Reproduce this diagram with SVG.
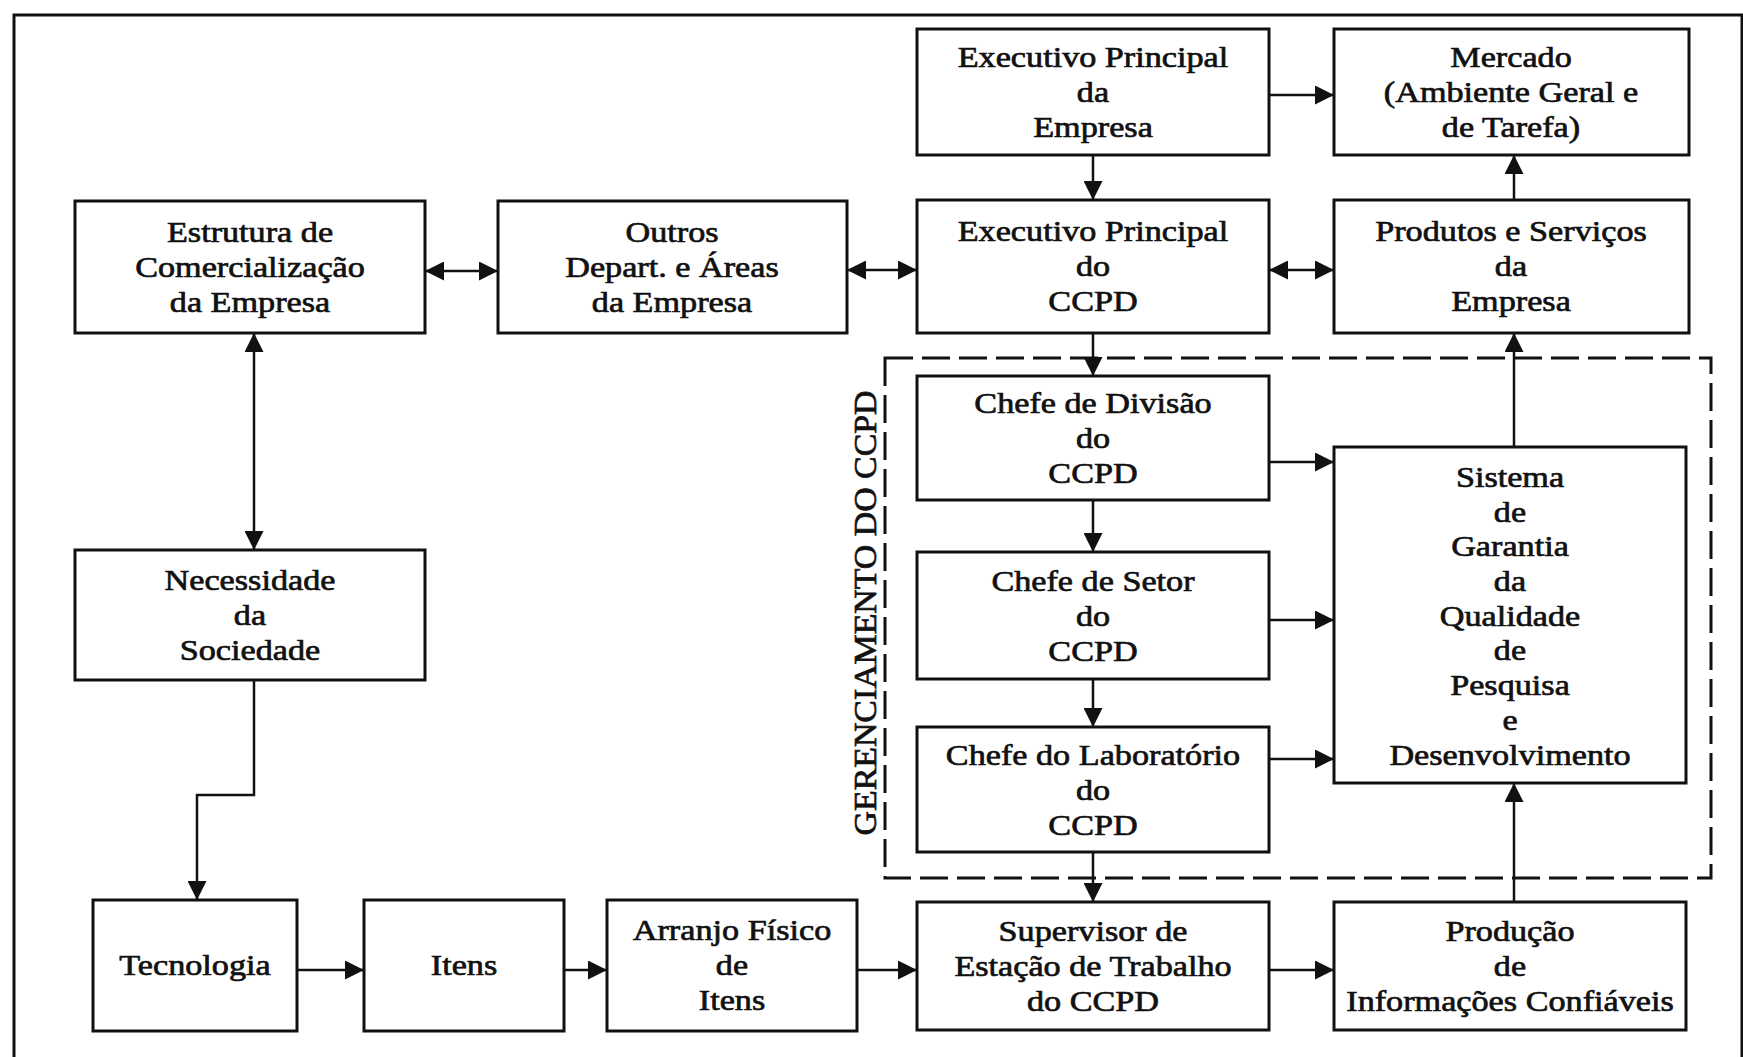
<svg xmlns="http://www.w3.org/2000/svg" width="1743" height="1057" viewBox="0 0 1743 1057">
<style>
.box{fill:#fff;stroke:#111;stroke-width:3}
.t{font-family:"Liberation Serif","Times New Roman",serif;font-size:30px;fill:#111;stroke:#111;stroke-width:0.7;text-anchor:middle}
.c{fill:none;stroke:#111;stroke-width:2.5}
.dash{fill:none;stroke:#111;stroke-width:3;stroke-dasharray:28 9}
.frame{fill:none;stroke:#111;stroke-width:3}
</style>
<defs>
<marker id="ah" markerUnits="userSpaceOnUse" markerWidth="19" markerHeight="19" refX="19" refY="9.5" orient="auto-start-reverse" viewBox="0 0 19 19">
<path d="M0,0 L19,9.5 L0,19 z" fill="#111"/>
</marker>
</defs>
<rect width="1743" height="1057" fill="#fff"/>
<path class="frame" d="M14,1057 V15 H1742 V1057"/>
<rect class="dash" x="885" y="358" width="826" height="520"/>
<text font-family="Liberation Serif, serif" font-size="32" fill="#111" stroke="#111" stroke-width="0.7" text-anchor="middle" transform="translate(876,613) rotate(-90)" textLength="445" lengthAdjust="spacingAndGlyphs">GERENCIAMENTO DO CCPD</text>

<g id="connectors">
<line class="c" x1="1269" y1="95" x2="1334" y2="95" marker-end="url(#ah)"/>
<line class="c" x1="1093" y1="155" x2="1093" y2="200" marker-end="url(#ah)"/>
<line class="c" x1="1514" y1="200" x2="1514" y2="155" marker-end="url(#ah)"/>
<line class="c" x1="425" y1="271" x2="498" y2="271" marker-start="url(#ah)" marker-end="url(#ah)"/>
<line class="c" x1="847" y1="270" x2="917" y2="270" marker-start="url(#ah)" marker-end="url(#ah)"/>
<line class="c" x1="1269" y1="270" x2="1334" y2="270" marker-start="url(#ah)" marker-end="url(#ah)"/>
<line class="c" x1="1093" y1="333" x2="1093" y2="376" marker-end="url(#ah)"/>
<line class="c" x1="1514" y1="447" x2="1514" y2="333" marker-end="url(#ah)"/>
<line class="c" x1="1093" y1="500" x2="1093" y2="552" marker-end="url(#ah)"/>
<line class="c" x1="1093" y1="679" x2="1093" y2="727" marker-end="url(#ah)"/>
<line class="c" x1="1093" y1="852" x2="1093" y2="902" marker-end="url(#ah)"/>
<line class="c" x1="1269" y1="462" x2="1334" y2="462" marker-end="url(#ah)"/>
<line class="c" x1="1269" y1="620" x2="1334" y2="620" marker-end="url(#ah)"/>
<line class="c" x1="1269" y1="759" x2="1334" y2="759" marker-end="url(#ah)"/>
<line class="c" x1="1514" y1="902" x2="1514" y2="783" marker-end="url(#ah)"/>
<line class="c" x1="254" y1="333" x2="254" y2="550" marker-start="url(#ah)" marker-end="url(#ah)"/>
<path class="c" d="M254,680 V795 H197 V900" marker-end="url(#ah)"/>
<line class="c" x1="297" y1="970" x2="364" y2="970" marker-end="url(#ah)"/>
<line class="c" x1="564" y1="970" x2="607" y2="970" marker-end="url(#ah)"/>
<line class="c" x1="857" y1="970" x2="917" y2="970" marker-end="url(#ah)"/>
<line class="c" x1="1269" y1="970" x2="1334" y2="970" marker-end="url(#ah)"/>
</g>

<g id="exec-empresa">
<rect class="box" x="917" y="29" width="352" height="126"/>
<g transform="translate(1093,0) scale(1.14,1)"><text class="t" x="0" y="67">Executivo Principal</text><text class="t" x="0" y="102">da</text><text class="t" x="0" y="137">Empresa</text></g>
</g>
<g id="mercado">
<rect class="box" x="1334" y="29" width="355" height="126"/>
<g transform="translate(1511,0) scale(1.14,1)"><text class="t" x="0" y="67">Mercado</text><text class="t" x="0" y="102">(Ambiente Geral e</text><text class="t" x="0" y="137">de Tarefa)</text></g>
</g>
<g id="estrutura">
<rect class="box" x="75" y="201" width="350" height="132"/>
<g transform="translate(250,0) scale(1.14,1)"><text class="t" x="0" y="242">Estrutura de</text><text class="t" x="0" y="277">Comercialização</text><text class="t" x="0" y="312">da Empresa</text></g>
</g>
<g id="outros">
<rect class="box" x="498" y="201" width="349" height="132"/>
<g transform="translate(672,0) scale(1.14,1)"><text class="t" x="0" y="242">Outros</text><text class="t" x="0" y="277">Depart. e Áreas</text><text class="t" x="0" y="312">da Empresa</text></g>
</g>
<g id="exec-ccpd">
<rect class="box" x="917" y="200" width="352" height="133"/>
<g transform="translate(1093,0) scale(1.14,1)"><text class="t" x="0" y="241">Executivo Principal</text><text class="t" x="0" y="276">do</text><text class="t" x="0" y="311">CCPD</text></g>
</g>
<g id="produtos">
<rect class="box" x="1334" y="200" width="355" height="133"/>
<g transform="translate(1511,0) scale(1.14,1)"><text class="t" x="0" y="241">Produtos e Serviços</text><text class="t" x="0" y="276">da</text><text class="t" x="0" y="311">Empresa</text></g>
</g>
<g id="chefe-divisao">
<rect class="box" x="917" y="376" width="352" height="124"/>
<g transform="translate(1093,0) scale(1.14,1)"><text class="t" x="0" y="413">Chefe de Divisão</text><text class="t" x="0" y="448">do</text><text class="t" x="0" y="483">CCPD</text></g>
</g>
<g id="chefe-setor">
<rect class="box" x="917" y="552" width="352" height="127"/>
<g transform="translate(1093,0) scale(1.14,1)"><text class="t" x="0" y="591">Chefe de Setor</text><text class="t" x="0" y="626">do</text><text class="t" x="0" y="661">CCPD</text></g>
</g>
<g id="chefe-laboratorio">
<rect class="box" x="917" y="727" width="352" height="125"/>
<g transform="translate(1093,0) scale(1.14,1)"><text class="t" x="0" y="765">Chefe do Laboratório</text><text class="t" x="0" y="800">do</text><text class="t" x="0" y="835">CCPD</text></g>
</g>
<g id="sistema">
<rect class="box" x="1334" y="447" width="352" height="336"/>
<g transform="translate(1510,0) scale(1.14,1)">
<text class="t" x="0" y="487">Sistema</text><text class="t" x="0" y="522">de</text><text class="t" x="0" y="556">Garantia</text><text class="t" x="0" y="591">da</text><text class="t" x="0" y="626">Qualidade</text><text class="t" x="0" y="660">de</text><text class="t" x="0" y="695">Pesquisa</text><text class="t" x="0" y="730">e</text><text class="t" x="0" y="765">Desenvolvimento</text>
</g>
</g>
<g id="necessidade">
<rect class="box" x="75" y="550" width="350" height="130"/>
<g transform="translate(250,0) scale(1.14,1)"><text class="t" x="0" y="590">Necessidade</text><text class="t" x="0" y="625">da</text><text class="t" x="0" y="660">Sociedade</text></g>
</g>
<g id="tecnologia">
<rect class="box" x="93" y="900" width="204" height="131"/>
<g transform="translate(195,0) scale(1.14,1)"><text class="t" x="0" y="975">Tecnologia</text></g>
</g>
<g id="itens">
<rect class="box" x="364" y="900" width="200" height="131"/>
<g transform="translate(464,0) scale(1.14,1)"><text class="t" x="0" y="975">Itens</text></g>
</g>
<g id="arranjo">
<rect class="box" x="607" y="900" width="250" height="131"/>
<g transform="translate(732,0) scale(1.14,1)"><text class="t" x="0" y="940">Arranjo Físico</text><text class="t" x="0" y="975">de</text><text class="t" x="0" y="1010">Itens</text></g>
</g>
<g id="supervisor">
<rect class="box" x="917" y="902" width="352" height="128"/>
<g transform="translate(1093,0) scale(1.14,1)"><text class="t" x="0" y="941">Supervisor de</text><text class="t" x="0" y="976">Estação de Trabalho</text><text class="t" x="0" y="1011">do CCPD</text></g>
</g>
<g id="producao">
<rect class="box" x="1334" y="902" width="352" height="128"/>
<g transform="translate(1510,0) scale(1.14,1)"><text class="t" x="0" y="941">Produção</text><text class="t" x="0" y="976">de</text><text class="t" x="0" y="1011">Informações Confiáveis</text></g>
</g>
</svg>
